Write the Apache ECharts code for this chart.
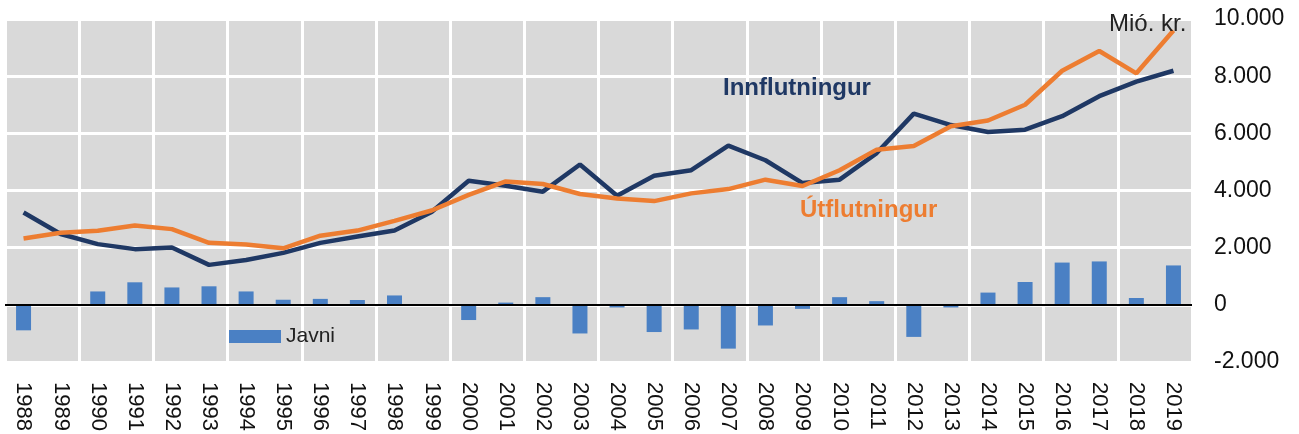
<!DOCTYPE html>
<html>
<head>
<meta charset="utf-8">
<script src="https://cdn.jsdelivr.net/npm/echarts@6/dist/echarts.min.js"></script>
<style>
    html, body {margin: 0; padding: 0; background: #fff;}
    #main_chart {width: 1299px; height: 434px;}
</style>
</head>
<body>
<div id="main_chart"></div>
<script>
// ár
var years = ['1988', '1989', '1990', '1991', '1992', '1993', '1994', '1995', '1996', '1997', '1998',
    '1999', '2000', '2001', '2002', '2003', '2004', '2005', '2006', '2007', '2008', '2009', '2010',
    '2011', '2012', '2013', '2014', '2015', '2016', '2017', '2018', '2019'];

// Innflutningur (mió. kr.)
var innflutningur = [3230, 2480, 2125, 1950, 2010, 1400, 1570, 1820, 2170, 2390, 2600,
    3250, 4340, 4170, 3960, 4910, 3820, 4520, 4710, 5570, 5060, 4260, 4380,
    5310, 6690, 6290, 6050, 6130, 6600, 7300, 7810, 8190];

// Útflutningur (mió. kr.)
var utflutningur = [2320, 2520, 2590, 2780, 2650, 2170, 2110, 1980, 2420, 2600, 2940,
    3300, 3850, 4320, 4230, 3880, 3720, 3630, 3900, 4050, 4380, 4160, 4710,
    5430, 5560, 6250, 6450, 7000, 8190, 8880, 8100, 9600];

// Javni
var javni = [-890, 0, 470, 790, 610, 650, 470, 180, 210, 170, 330,
    0, -530, 80, 270, -1000, -90, -950, -860, -1530, -720, -140, 270,
    130, -1120, -90, 430, 800, 1480, 1520, 240, 1380];

var yTicks = {min: -2000, max: 10000, interval: 2000};

// tveggja ára bil, bara fyrir hvítu lóðréttu línurnar
var yearPairs = years.filter(function (y, i) {
    return i % 2 === 0;
});

var fontName = '"Liberation Sans", Arial, sans-serif';

// 10000 -> 10.000
function dotThousands(v) {
    var s = String(Math.abs(v)).replace(/\B(?=(\d{3})+(?!\d))/g, '.');
    return (v < 0 ? '-' : '') + s;
}

function chartShow() {
    var myChart = echarts.init(document.getElementById('main_chart'));
    var option = {
        animation: false,
        textStyle: {fontFamily: fontName},
        grid: {
            left: 5,
            right: 107,
            top: 19,
            bottom: 71,
            show: true,
            backgroundColor: '#d9d9d9',
            borderWidth: 0
        },
        legend: {
            data: ['Javni'],
            left: 224,
            top: 321,
            itemWidth: 52,
            itemHeight: 13,
            icon: 'rect',
            textStyle: {fontSize: 21, color: '#222', fontFamily: fontName}
        },
        xAxis: [
            {
                type: 'category',
                data: years,
                boundaryGap: true,
                axisLine: {show: false},
                axisTick: {show: false},
                axisLabel: {
                    rotate: -90,
                    interval: 0,
                    margin: 20,
                    fontSize: 22,
                    color: '#111',
                    fontFamily: fontName
                },
                splitLine: {show: false}
            },
            {
                type: 'category',
                data: yearPairs,
                position: 'bottom',
                boundaryGap: true,
                axisLine: {show: false},
                axisTick: {show: false},
                axisLabel: {show: false},
                splitLine: {
                    show: true,
                    interval: 0,
                    lineStyle: {color: '#ffffff', width: 3}
                }
            }
        ],
        yAxis: {
            type: 'value',
            position: 'right',
            min: yTicks.min,
            max: yTicks.max,
            interval: yTicks.interval,
            axisLine: {show: false},
            axisTick: {show: false},
            axisLabel: {
                margin: 22,
                fontSize: 23,
                color: '#111',
                fontFamily: fontName,
                formatter: dotThousands
            },
            splitLine: {lineStyle: {color: '#ffffff', width: 3}}
        },
        series: [
            {
                name: 'Javni',
                type: 'bar',
                data: javni,
                barWidth: 15,
                itemStyle: {color: '#4a80c4'},
                z: 2,
                markLine: {
                    silent: true,
                    symbol: 'none',
                    label: {show: false},
                    lineStyle: {color: '#000', width: 2, type: 'solid'},
                    data: [{yAxis: 0}]
                }
            },
            {
                name: 'Innflutningur',
                type: 'line',
                data: innflutningur,
                symbol: 'none',
                lineStyle: {color: '#1f3864', width: 4.5},
                itemStyle: {color: '#1f3864'},
                z: 4
            },
            {
                name: 'Útflutningur',
                type: 'line',
                data: utflutningur,
                symbol: 'none',
                lineStyle: {color: '#ed7d31', width: 4.5},
                itemStyle: {color: '#ed7d31'},
                z: 5
            }
        ],
        graphic: [
            {
                type: 'text', left: 723, top: 76, z: 10,
                style: {text: 'Innflutningur', fill: '#1f3864', font: 'bold 24px ' + fontName}
            },
            {
                type: 'text', left: 800, top: 198, z: 10,
                style: {text: 'Útflutningur', fill: '#ed7d31', font: 'bold 24px ' + fontName}
            },
            {
                type: 'text', left: 1109, top: 12, z: 10,
                style: {text: 'Mió. kr.', fill: '#222', font: '24px ' + fontName}
            }
        ]
    };
    myChart.setOption(option);
}

chartShow();
</script>
</body>
</html>
